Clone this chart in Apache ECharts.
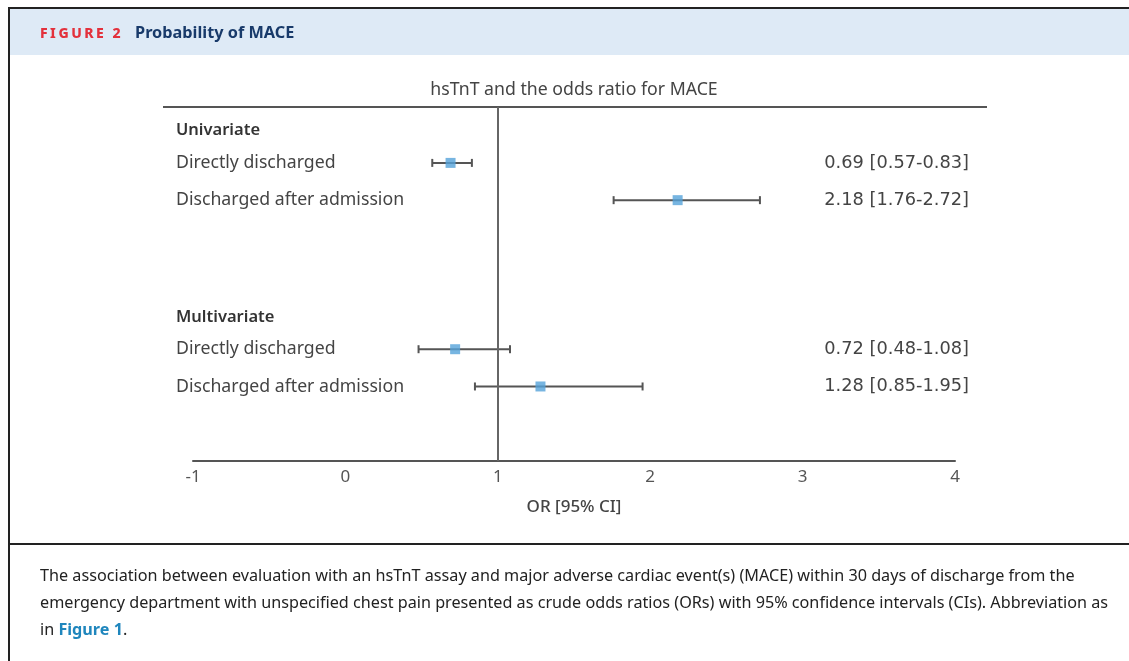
<!DOCTYPE html>
<html><head><meta charset="utf-8">
<script src="https://cdn.jsdelivr.net/npm/echarts@6/dist/echarts.min.js"></script>
<style>
html,body{margin:0;padding:0;background:#fff;width:1129px;height:661px;overflow:hidden;font-family:"Noto Sans",sans-serif;}
#chart{position:absolute;left:0;top:0;width:1129px;height:661px;}
.frame{position:absolute;left:8px;top:7px;width:1140px;height:700px;border-top:2px solid #222;border-left:2px solid #222;pointer-events:none;}
.band{position:absolute;left:10px;top:9px;width:1119px;height:46px;background:#deeaf6;}
.hdr{position:absolute;left:40px;top:21px;white-space:nowrap;}
.fig{color:#e3313c;font-weight:800;font-size:14px;letter-spacing:2.5px;}
.ttl{color:#183a6a;font-weight:700;font-size:16.3px;margin-left:12px;}
.sep{position:absolute;left:8px;top:543px;width:1121px;height:2px;background:#222;}
.cap{position:absolute;left:40px;top:562px;font-size:16.2px;line-height:27px;color:#222;white-space:nowrap;}
.cap b{color:#1f86bd;}
</style></head>
<body>
<div class="band"></div>
<div id="chart"></div>
<div class="frame"></div>
<div class="hdr"><span class="fig">FIGURE 2</span><span class="ttl">Probability of MACE</span></div>
<div class="sep"></div>
<div class="cap">The association between evaluation with an hsTnT assay and major adverse cardiac event(s) (MACE) within 30 days of discharge from the<br>emergency department with unspecified chest pain presented as crude odds ratios (ORs) with 95% confidence intervals (CIs). Abbreviation as<br>in <b>Figure 1</b>.</div>
<script>
// ---- data ----
const groups = ['Univariate', 'Multivariate'];
const subgroups = ['Directly discharged', 'Discharged after admission'];
const orValues = [0.69, 2.18, 0.72, 1.28];
const ciLow = [0.57, 1.76, 0.48, 0.85];
const ciHigh = [0.83, 2.72, 1.08, 1.95];
const xTicks = [-1, 0, 1, 2, 3, 4];
const chartTitle = 'hsTnT and the odds ratio for MACE';
const xName = 'OR [95% CI]';

// ---- build category rows ----
const leftCats = [], rightCats = [], rowIdx = [];
function pushRow(l, r) { leftCats.push(l); rightCats.push(r); }
pushRow('', '');
groups.forEach((g, gi) => {
  pushRow(g, '');
  subgroups.forEach((s, si) => {
    pushRow('', '');
    const k = gi * subgroups.length + si;
    pushRow(s, orValues[k].toFixed(2) + ' [' + ciLow[k].toFixed(2) + '-' + ciHigh[k].toFixed(2) + ']');
    rowIdx.push(leftCats.length - 1);
  });
  if (gi < groups.length - 1) { for (let i = 0; i < 5; i++) pushRow('', ''); }
});
while (leftCats.length < 20) pushRow('', '');

const chart = echarts.init(document.getElementById('chart'));
const font = '"Noto Sans", sans-serif';
const rowNum = leftCats.map((_, i) => i);
chart.setOption({
  animation: false,
  textStyle: { fontFamily: font },
  grid: { left: 193, right: 174, top: 107, bottom: 200 },
  xAxis: {
    type: 'value', min: xTicks[0], max: xTicks[xTicks.length - 1], interval: 1,
    axisLine: { show: true, lineStyle: { color: '#555', width: 2 } },
    axisTick: { show: false }, splitLine: { show: false },
    axisLabel: { color: '#555', fontSize: 17, margin: 8, fontFamily: font },
    name: xName, nameLocation: 'middle', nameGap: 38,
    nameTextStyle: { color: '#444', fontSize: 17, fontWeight: 500, fontFamily: font }
  },
  yAxis: [{
    type: 'category', inverse: true, boundaryGap: false, data: rowNum,
    axisLine: { show: false }, axisTick: { show: false }, splitLine: { show: false },
    axisLabel: {
      interval: 0, align: 'left', margin: 17, color: '#444', fontSize: 17.7, fontFamily: font,
      formatter: (v, i) => { const t = leftCats[i]; return groups.includes(t) ? '{h|' + t + '}' : t; },
      rich: { h: { fontWeight: 600, color: '#333', fontSize: 16.5, padding: [10, 0, 0, 0], fontFamily: font } }
    }
  }, {
    type: 'category', inverse: true, boundaryGap: false, data: rowNum, position: 'right',
    axisLine: { show: false }, axisTick: { show: false }, splitLine: { show: false },
    axisLabel: { interval: 0, align: 'right', margin: 14, color: '#444', fontSize: 17.8,
      fontFamily: '"DejaVu Sans", sans-serif', formatter: (v, i) => rightCats[i] }
  }],
  graphic: [
    { type: 'line', shape: { x1: 163, y1: 107, x2: 987, y2: 107 }, style: { stroke: '#555', lineWidth: 2 } },
    { type: 'text', x: 574, y: 90, style: { text: chartTitle, align: 'center', verticalAlign: 'middle', fill: '#444', fontSize: 17.7, fontFamily: font } }
  ],
  series: [{
    type: 'custom',
    yAxisIndex: 0,
    data: rowIdx.map((r, i) => [ciLow[i], r, ciHigh[i]]),
    encode: { x: 0, y: 1 },
    renderItem: (params, api) => {
      const a = api.coord([api.value(0), api.value(1)]);
      const b = api.coord([api.value(2), api.value(1)]);
      const st = { stroke: '#555', lineWidth: 2 };
      return { type: 'group', children: [
        { type: 'line', shape: { x1: a[0], y1: a[1], x2: b[0], y2: b[1] }, style: st },
        { type: 'line', shape: { x1: a[0], y1: a[1] - 4, x2: a[0], y2: a[1] + 4 }, style: st },
        { type: 'line', shape: { x1: b[0], y1: b[1] - 4, x2: b[0], y2: b[1] + 4 }, style: st }
      ] };
    },
    z: 2
  }, {
    type: 'scatter',
    yAxisIndex: 0,
    data: rowIdx.map((r, i) => [orValues[i], r]),
    symbol: 'rect', symbolSize: 10,
    itemStyle: { color: '#55a3da' },
    markLine: {
      silent: true, symbol: 'none', label: { show: false },
      lineStyle: { color: '#666', width: 2, type: 'solid' },
      data: [{ xAxis: 1 }]
    },
    z: 3
  }]
});
</script>
</body></html>
